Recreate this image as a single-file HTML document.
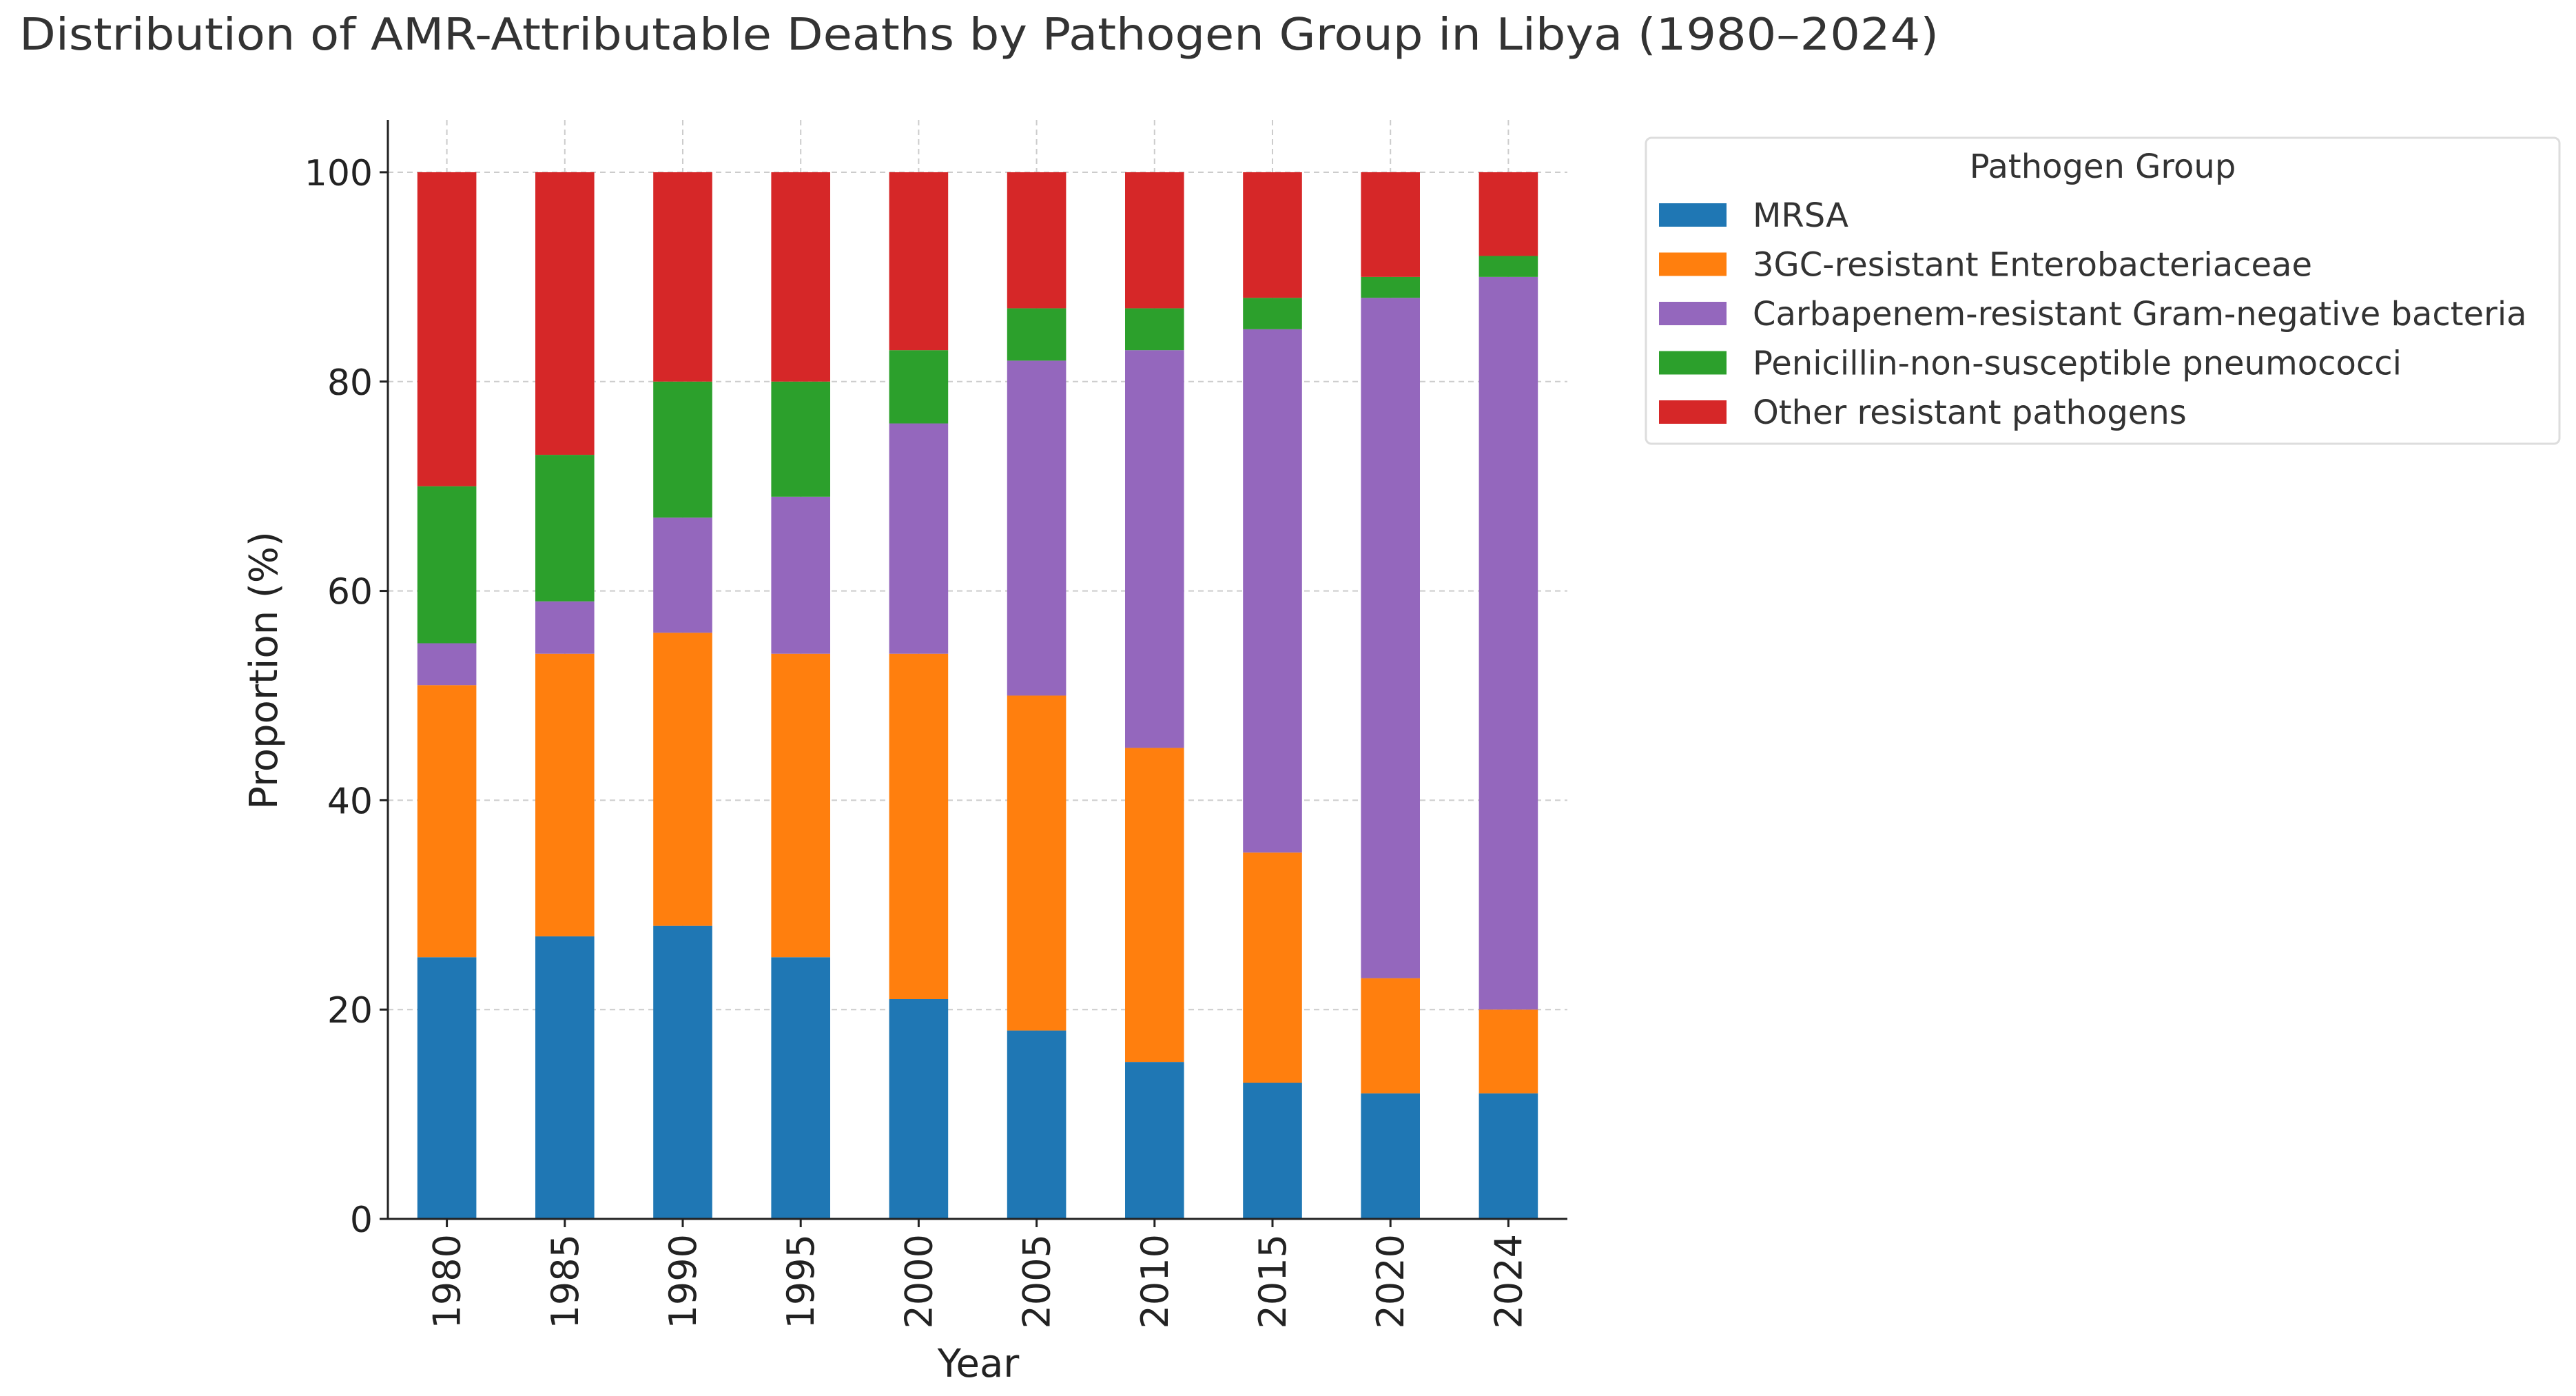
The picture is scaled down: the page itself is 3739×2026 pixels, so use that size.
<!DOCTYPE html>
<html><head><meta charset="utf-8"><style>
html,body{margin:0;padding:0;background:#fff;}
svg{display:block;font-family:"DejaVu Sans","Liberation Sans",sans-serif;}
</style></head><body>
<svg id="chart" width="3739" height="2026" viewBox="0 0 3739 2026" xmlns="http://www.w3.org/2000/svg">
<rect width="3739" height="2026" fill="#fff"/>
<text x="28" y="72" font-size="64" fill="#333" textLength="2786" lengthAdjust="spacingAndGlyphs">Distribution of AMR-Attributable Deaths by Pathogen Group in Libya (1980–2024)</text>
<g id="grid"></g><g id="bars"></g><g id="axes"></g><g id="legend"></g>
</svg>
<script>
const categories = ["1980","1985","1990","1995","2000","2005","2010","2015","2020","2024"];
const seriesNames = ["MRSA","3GC-resistant Enterobacteriaceae","Carbapenem-resistant Gram-negative bacteria","Penicillin-non-susceptible pneumococci","Other resistant pathogens"];
const mrsa = [25,27,28,25,21,18,15,13,12,12];
const gc3 = [26,27,28,29,33,32,30,22,11,8];
const carb = [4,5,11,15,22,32,38,50,65,70];
const pen = [15,14,13,11,7,5,4,3,2,2];
const other = [30,27,20,20,17,13,13,12,10,8];
const yTicks = [0,20,40,60,80,100];

const series = [mrsa,gc3,carb,pen,other];
const colors = ["#1f77b4","#ff7f0e","#9467bd","#2ca02c","#d62728"];
const NS="http://www.w3.org/2000/svg";
const L=563,R=2275,B=1769,T=174,yMax=105;
const n=categories.length, step=(R-L)/n;
const xC=i=>L+step*(i+0.5);
const yS=v=>B-(B-T)*v/yMax;
function mk(tag,attrs,parent,text){const e=document.createElementNS(NS,tag);for(const k in attrs)e.setAttribute(k,attrs[k]);if(text!==undefined)e.textContent=text;parent.appendChild(e);return e;}
const grid=document.getElementById('grid'),bars=document.getElementById('bars'),axes=document.getElementById('axes'),leg=document.getElementById('legend');
yTicks.forEach(t=>{const g=mk('line',{x1:L,x2:R,y1:yS(t),y2:yS(t),stroke:'#ccc','stroke-width':2,'stroke-dasharray':'8,6'},grid);


const tl=mk('text',{x:L-22,y:yS(t)+19,'font-size':52,'text-anchor':'end',fill:'#222'},axes,String(t));


mk('line',{x1:L-12,x2:L,y1:yS(t),y2:yS(t),stroke:'#222','stroke-width':3},axes);});
categories.forEach((c,i)=>{const g=mk('line',{x1:xC(i),x2:xC(i),y1:T,y2:B,stroke:'#ccc','stroke-width':2,'stroke-dasharray':'8,6'},grid);


let base=0;const bw=step*0.5;
series.forEach((s,k)=>{const r=mk('rect',{x:xC(i)-bw/2,y:yS(base+s[i]),width:bw,height:yS(base)-yS(base+s[i]),fill:colors[k]},bars);


base+=s[i];});
mk('line',{x1:xC(i),x2:xC(i),y1:B,y2:B+12,stroke:'#222','stroke-width':3},axes);
const xl=mk('text',{x:0,y:0,'font-size':54,'text-anchor':'end',fill:'#222',transform:`translate(${xC(i)+19},${B+22}) rotate(-90)`},axes,c);

});
const ls=mk('line',{x1:L,x2:L,y1:T,y2:B,stroke:'#222','stroke-width':3},axes);


const bs=mk('line',{x1:L,x2:R,y1:B,y2:B,stroke:'#222','stroke-width':3},axes);


const xt=mk('text',{x:1420,y:1998,'font-size':56,'text-anchor':'middle',fill:'#222'},axes,'Year');


const yt=mk('text',{x:0,y:0,'font-size':56,'text-anchor':'middle',fill:'#222',transform:'translate(402,973) rotate(-90)'},axes,'Proportion (%)');


const box=mk('rect',{x:2389,y:200,width:1326,height:444,rx:8,fill:'#fff',stroke:'#ddd','stroke-width':3},leg);


const lt=mk('text',{x:3052,y:258,'font-size':48,'text-anchor':'middle',fill:'#333'},leg,'Pathogen Group');


seriesNames.forEach((nm,k)=>{const y=312+k*71.5;
const g=mk('g',{},leg);


mk('rect',{x:2408,y:y-17,width:98,height:34,fill:colors[k]},g);
mk('text',{x:2544,y:y+17,'font-size':48,fill:'#333'},g,nm);});
</script>
</body></html>
